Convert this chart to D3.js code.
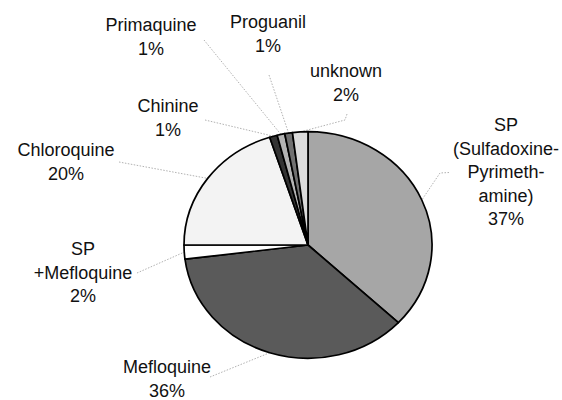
<!DOCTYPE html>
<html>
<head>
<meta charset="utf-8">
<script src="https://cdn.jsdelivr.net/npm/d3@7"></script>
<style>
  html, body { margin: 0; padding: 0; background: #fff; }
  svg { display: block; }
  text { font-family: "Liberation Sans", Arial, sans-serif; font-size: 18px; fill: #111; }
</style>
</head>
<body>
<svg id="chart" width="562" height="400"></svg>
<script>
// Antimalarial drug used (share of cases, %)
const categories = ["SP (Sulfadoxine-Pyrimethamine)", "Mefloquine", "SP +Mefloquine", "Chloroquine",
                    "Chinine", "Primaquine", "Proguanil", "unknown"];
const shares = [37, 36, 2, 20, 1, 1, 1, 2];
const labelLines = [
  ["SP", "(Sulfadoxine-", "Pyrimeth-", "amine)"],
  ["Mefloquine"],
  ["SP", "+Mefloquine"],
  ["Chloroquine"],
  ["Chinine"],
  ["Primaquine"],
  ["Proguanil"],
  ["unknown"]
];

// Slice fills (grayscale)
const fills = ["#a6a6a6", "#5a5a5a", "#ffffff", "#f3f3f3", "#333333", "#b4b4b4", "#707070", "#dcdcdc"];

// Label placement: centre x, first baseline y; leader line start (label side)
const labelLayout = {
  "SP (Sulfadoxine-Pyrimethamine)": { x: 506, y: 131, lead: [[449, 172.5], [440, 173]] },
  "Mefloquine":     { x: 167, y: 373, lead: [[210, 377]] },
  "SP +Mefloquine": { x: 83,  y: 255, lead: [[137, 273]] },
  "Chloroquine":    { x: 66,  y: 156, lead: [[119, 162]] },
  "Chinine":        { x: 168, y: 112, lead: [[205, 120]] },
  "Primaquine":     { x: 151, y: 31,  lead: [[204, 40]] },
  "Proguanil":      { x: 268, y: 28,  lead: [[269, 75]] },
  "unknown":        { x: 346, y: 77,  lead: [[347, 114], [345, 120]] }
};
const lineGap = 23.5;

const svg = d3.select("#chart");
const cx = 308, cy = 245;
const R = 113.3;           // vertical radius
const sx = 124 / 113.3;    // horizontal stretch of the pie

const data = categories.map((c, i) => ({ name: c, value: shares[i], fill: fills[i], lines: labelLines[i] }));

const pie = d3.pie().sort(null).value(d => d.value).startAngle(0).endAngle(2 * Math.PI);
const arcs = pie(data);
const arc = d3.arc().innerRadius(0).outerRadius(R);
const edge = d3.arc().innerRadius(R).outerRadius(R);

// Leader lines (drawn first, beneath the slices)
const leaderG = svg.append("g");
arcs.forEach(a => {
  const L = labelLayout[a.data.name];
  const c = edge.centroid(a);
  const end = [cx + c[0] * sx, cy + c[1]];
  const pts = L.lead.concat([end]);
  leaderG.append("path")
    .attr("d", d3.line()(pts))
    .attr("fill", "none")
    .attr("stroke", "#a8a8a8")
    .attr("stroke-width", 0.9)
    .attr("stroke-dasharray", "1.5,1.5");
});

// Slices
const pieG = svg.append("g").attr("transform", `translate(${cx},${cy}) scale(${sx},1)`);
pieG.selectAll("path.slice")
  .data(arcs)
  .join("path")
  .attr("class", "slice")
  .attr("d", arc)
  .attr("fill", d => d.data.fill)
  .attr("stroke", "#000")
  .attr("stroke-width", 1.7)
  .attr("stroke-linejoin", "round")
  .attr("vector-effect", "non-scaling-stroke");

// Labels: name lines followed by the percentage
const labelG = svg.append("g");
arcs.forEach(a => {
  const L = labelLayout[a.data.name];
  const rows = a.data.lines.concat([a.data.value + "%"]);
  const t = labelG.append("text").attr("text-anchor", "middle");
  rows.forEach((r, i) => {
    t.append("tspan").attr("x", L.x).attr("y", L.y + i * lineGap).text(r);
  });
});
</script>
</body>
</html>
